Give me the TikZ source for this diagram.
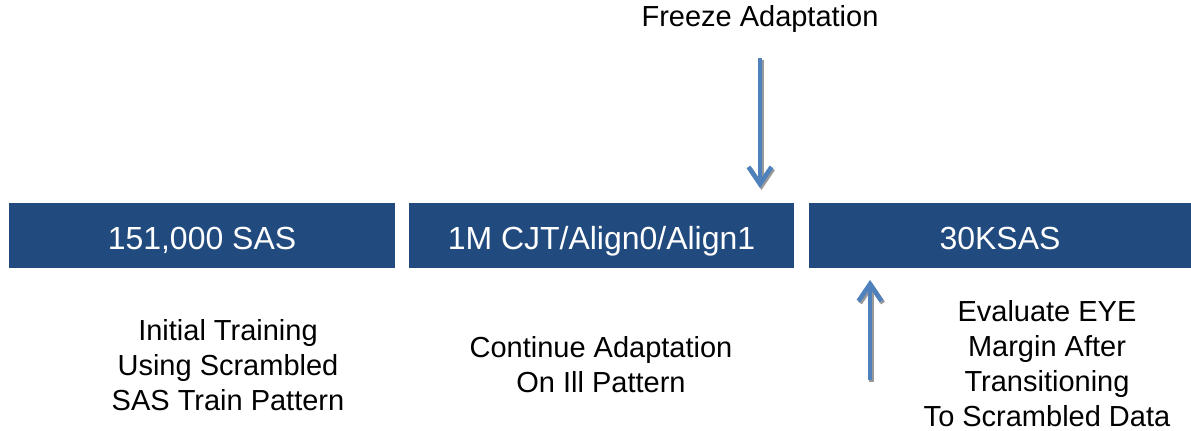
\documentclass[tikz,border=0pt]{standalone}
\usepackage{fontspec}
\setmainfont{Liberation Sans}
\usepackage{xcolor}
\usetikzlibrary{arrows.meta, positioning}
\definecolor{phaseblue}{HTML}{214A7E}
\definecolor{arrowblue}{HTML}{4F81BD}
\begin{document}
\begin{tikzpicture}[
  x=0.02cm, y=-0.02cm,
  phase/.style={fill=phaseblue, text=white, minimum height=1.3cm, inner sep=0pt,
    text height=0.6cm, text depth=0.04cm, font=\fontsize{18.2}{22}\selectfont},
  note/.style={align=center, inner sep=0pt, font=\fontsize{16.5}{19.9}\selectfont},
  flow/.style={line width=2.6pt, draw=arrowblue, -{Straight Barb[length=3.4mm, width=4.6mm]}},
  flowshadow/.style={flow, draw=black!40}
]
\useasboundingbox (0,0) rectangle (1191,431);
% Phase boxes
\foreach \name/\cx/\bw/\lbl in {
  sas/202/7.72cm/{151,000 SAS},
  cjt/601.5/7.70cm/{1M CJT/Align0/Align1},
  ksas/1000/7.64cm/{30KSAS}}{
  \node[phase, minimum width=\bw] (\name) at (\cx,235.5) {\lbl};
}
% Notes
\node[note] (freeze) at (760,19) {Freeze Adaptation};
\node[note] (initial) at (228,365) {Initial Training\\Using Scrambled\\SAS Train Pattern};
\node[note] (cont) at (601,365) {Continue Adaptation\\On Ill Pattern};
\node[note] (eval) at (1047,364) {Evaluate EYE\\Margin After\\Transitioning\\To Scrambled Data};
% Arrows
\coordinate (frzTop) at (760,58);
\coordinate (frzTip) at (760,188);
\coordinate (evalBot) at (870,380);
\coordinate (evalTip) at (870,280);
\draw[flowshadow] ([shift={(1.5,2)}]frzTop) -- ([shift={(1.5,2)}]frzTip);
\draw[flow] (frzTop) -- (frzTip);
\draw[flowshadow] ([shift={(1.5,2)}]evalBot) -- ([shift={(1.5,2)}]evalTip);
\draw[flow] (evalBot) -- (evalTip);
\end{tikzpicture}
\end{document}
